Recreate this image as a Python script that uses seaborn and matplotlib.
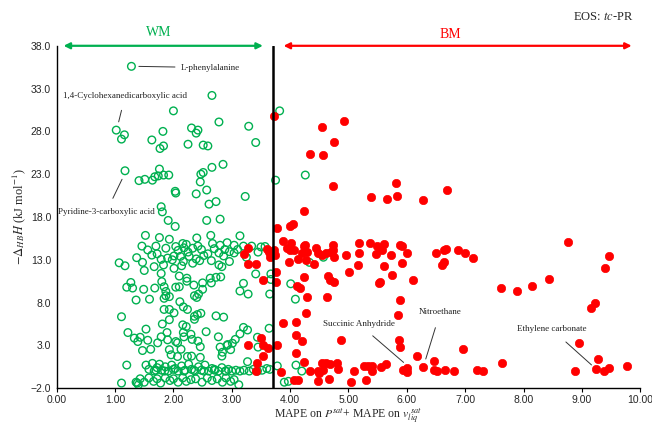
import numpy as np
import pandas as pd
import seaborn as sns
import matplotlib.pyplot as plt

# datos (MAPE vs -dHB H)
wm_x = [1.28, 2.66, 2.00, 3.82, 1.02, 1.16, 1.11, 1.82, 1.63, 1.83, 1.77, 2.31, 2.42, 2.39, 2.78, 3.29, 3.41, 2.25, 2.51, 2.59,
        1.17, 1.41, 1.51, 1.64, 1.68, 1.76, 1.74, 1.83, 1.92, 2.47, 2.51, 2.46, 2.66, 2.85, 3.75, 4.26, 2.03, 2.04, 2.39, 2.57,
        2.61, 2.73, 3.23, 1.79, 1.81, 1.91, 2.03, 2.57, 2.80, 1.52, 1.76, 1.93, 2.40, 2.64, 3.14,
        2.16, 1.46, 1.56, 1.70, 1.87, 2.04, 2.18, 2.22, 2.33, 2.42, 2.67, 2.80, 2.92, 3.04, 3.20, 3.34, 3.57, 1.37, 1.47, 1.63,
        1.72, 1.79, 1.90, 2.01, 2.12, 2.27, 2.39, 2.59, 2.78, 2.86, 2.96, 3.04, 2.96, 1.07, 1.17, 1.50, 1.67, 1.83, 1.79, 2.01,
        2.17, 2.33, 2.78, 2.83, 4.33, 4.57, 2.08, 2.25, 2.48, 2.52, 2.70, 2.88, 1.98, 2.14, 2.45, 2.65, 3.10, 3.45, 3.50, 3.25,
        1.27, 1.20, 1.30, 1.49, 1.68, 1.80, 1.84, 1.87, 1.87, 1.84, 1.93, 2.04, 2.10, 2.10, 2.23, 2.23, 2.35, 2.50, 2.50, 2.63,
        2.73, 2.81, 2.65, 3.20, 3.14, 3.28, 3.65, 3.67, 3.67, 3.41, 1.36, 1.59, 2.40, 2.36, 2.43, 4.01, 4.09,
        1.84, 1.93, 2.01, 2.11, 2.17, 2.24, 2.36, 2.36, 2.41, 2.47, 2.73, 2.86, 1.11,
        1.22, 1.33, 1.39, 1.43, 1.53, 1.56, 1.61, 1.47, 1.73, 1.79, 1.89, 1.90, 1.93, 1.81, 1.93, 1.96, 2.04, 2.07, 2.13, 2.18,
        2.16, 2.22, 2.17, 2.30, 2.32, 2.46, 2.42, 2.31, 2.07, 2.24, 2.46, 2.56, 2.77, 2.80, 2.92, 2.93, 3.01, 3.06, 3.14, 3.20,
        3.27, 2.98, 2.84, 2.83, 3.44, 3.45, 3.64, 1.20, 3.27, 3.78, 4.10, 4.20, 3.97, 1.11, 1.36, 1.40, 3.90,
        1.53, 1.58, 1.64, 1.67, 1.72, 1.76, 1.80, 1.86, 1.91, 1.97, 2.03, 2.08, 2.14, 2.20, 2.26, 2.31, 2.37, 2.43, 2.48, 2.54,
        2.60, 2.66, 2.71, 2.77, 2.83, 2.89, 2.94, 3.00, 3.07, 3.14, 3.21, 3.30, 3.37, 3.44, 3.52, 3.60, 3.65,
        1.70, 1.85, 2.00, 2.18, 2.35, 2.52, 2.70, 2.90,
        1.38, 1.43, 1.50, 1.58, 1.66, 1.72, 1.78, 1.86, 1.94, 2.00, 2.08, 2.16, 2.22, 2.30, 2.38, 2.49, 2.58, 2.66, 2.75, 2.84,
        2.90, 2.98, 3.04, 3.12]
wm_y = [35.6, 32.2, 30.4, 30.4, 28.15, 27.6, 27.1, 28.0, 27.0, 26.3, 26.0, 28.4, 28.15, 27.8, 29.1, 28.6, 26.7, 26.5, 26.4, 26.3,
        23.4, 22.25, 22.4, 22.3, 22.7, 23.6, 22.8, 22.9, 22.9, 23.0, 23.2, 22.1, 23.8, 24.15, 22.3, 22.9, 21.0, 20.8, 20.7, 21.15,
        19.5, 19.8, 20.4, 19.2, 18.6, 17.6, 16.9, 17.6, 17.75, 15.85, 15.6, 15.4, 15.55, 15.85, 15.8,
        14.9, 14.6, 14.15, 14.6, 14.35, 14.55, 14.4, 14.8, 14.35, 14.6, 14.9, 14.7, 15.0, 14.7, 14.6, 14.6, 14.55, 13.25, 12.7, 13.55,
        13.7, 13.05, 13.2, 13.45, 13.4, 13.4, 13.1, 13.7, 13.8, 13.45, 13.95, 13.8, 12.8, 12.65, 12.3, 11.75, 12.2, 12.4, 11.4, 12.0,
        12.8, 12.6, 12.4, 12.2, 12.7, 13.3, 14.1, 13.9, 14.2, 13.5, 14.3, 14.2, 13.0, 12.3, 12.9, 12.9, 14.2, 13.9, 14.5, 13.3,
        10.35, 9.8, 9.7, 9.55, 9.7, 10.45, 9.85, 9.3, 8.8, 8.5, 8.7, 9.8, 9.85, 11.1, 10.85, 10.5, 10.05, 10.3, 9.55, 10.85,
        10.95, 11.0, 10.3, 10.25, 9.35, 9.0, 9.0, 10.7, 11.35, 11.35, 8.3, 8.4, 8.6, 8.8, 9.0, 10.2, 8.4,
        7.2, 7.2, 6.8, 8.1, 7.5, 7.2, 6.05, 6.4, 6.6, 6.75, 6.45, 6.3, 6.35,
        4.5, 3.85, 3.45, 3.95, 4.9, 3.6, 2.55, 2.4, 3.3, 4.0, 4.5, 3.65, 6.0, 5.5, 2.5, 1.9, 3.45, 3.3, 2.55, 4.0,
        5.4, 5.2, 4.5, 4.3, 3.7, 2.85, 3.5, 1.75, 1.7, 1.7, 1.6, 4.6, 4.0, 2.8, 3.0, 3.1, 3.25, 3.7, 4.35, 5.1,
        4.8, 2.5, 2.2, 1.75, 3.95, 2.8, 5.0, 0.7, 1.1, 0.6, 0.7, 0.0, -1.2, -1.4, -1.3, -1.6, -1.3,
        0.7, 0.2, 0.9, 0.0, 0.4, 0.8, 0.1, 0.5, 0.0, 0.7, 0.3, 0.0, 0.6, 0.1, 0.8, 0.2, 0.0, 0.5, 0.1, 0.7,
        0.0, 0.3, 0.1, 0.0, 0.4, 0.0, 0.2, 0.0, 0.1, 0.0, 0.1, 0.0, 0.2, 0.0, 0.1, 0.3, 0.2,
        0.1, 0.0, 0.2, 0.0, 0.1, 0.0, 0.2, 0.0,
        -1.4, -0.9, -1.3, -0.8, -1.2, -0.9, -1.4, -0.8, -1.1, -0.9, -1.3, -0.8, -1.2, -1.0, -0.9, -1.3, -0.8, -1.1, -0.9, -1.3,
        -0.8, -1.2, -1.0, -1.6]

bm_x = [3.72, 4.54, 4.93, 4.34, 4.57, 4.76, 4.73, 5.82, 5.39, 5.66, 5.83, 6.27, 6.68, 4.24, 3.78, 4.00, 4.05, 3.87, 4.01, 3.94,
        4.00, 4.07, 4.23, 4.21, 4.29, 4.44, 4.47, 4.55, 4.61, 4.73, 4.74, 4.70, 4.75, 4.95, 5.18, 5.36, 5.48, 5.18, 5.47, 5.16,
        5.01, 3.72, 3.74, 3.98, 4.14, 4.41, 3.76, 3.76, 4.23, 4.65, 4.68, 4.75, 4.11, 4.17, 4.29, 4.63, 4.27, 5.52, 5.61, 5.58,
        5.88, 5.92, 6.00, 5.72, 5.61, 5.91, 5.75, 5.54, 6.11, 5.88, 5.84, 6.50, 6.64, 6.67, 6.63, 6.61, 6.88, 7.00, 7.14, 7.62,
        7.88, 8.14, 8.44, 8.77, 9.47, 9.39, 9.22, 9.16, 8.95, 9.27, 9.24, 9.37, 9.47, 9.78, 8.89, 7.63, 6.97, 7.21, 7.31, 6.80,
        6.65, 6.52, 6.46, 6.46, 6.28, 6.17, 6.00, 6.01, 5.94, 5.88, 5.86, 5.64, 5.56, 5.41, 5.41, 5.33, 5.26, 5.09, 5.30, 5.04,
        4.88, 4.80, 4.82, 4.68, 4.67, 4.55, 4.57, 3.88, 4.10, 4.10, 4.20, 3.77, 4.10, 4.23, 3.84, 4.34, 4.47, 4.50, 4.06, 4.14,
        4.47, 3.28, 3.50, 3.54, 3.62, 3.54, 3.43, 3.41, 3.28, 3.21, 3.28, 3.41, 3.60, 3.64, 3.68, 3.53, 4.25, 4.27, 4.61, 3.66]
bm_y = [29.8, 28.5, 29.2, 25.4, 25.3, 26.8, 21.6, 22.0, 20.3, 20.1, 20.5, 20.0, 21.2, 18.7, 16.7, 16.95, 17.15, 15.2, 15.0, 14.35,
        14.1, 14.1, 14.6, 13.8, 13.95, 14.35, 13.8, 13.6, 13.8, 14.7, 14.2, 13.95, 13.3, 13.55, 15.0, 15.0, 14.6, 13.8, 13.7, 12.4,
        11.6, 14.1, 13.55, 12.8, 13.05, 12.5, 11.6, 10.4, 11.0, 11.15, 10.65, 10.45, 9.9, 9.7, 8.7, 8.6, 6.75, 10.3, 14.8, 14.2,
        14.7, 14.6, 13.8, 13.55, 12.3, 12.65, 11.2, 10.45, 10.65, 8.3, 6.55, 13.8, 14.1, 14.3, 12.8, 12.4, 14.15, 13.75, 13.25, 9.7,
        9.3, 9.95, 10.7, 15.1, 13.5, 12.05, 8.0, 7.35, 3.3, 1.4, 0.2, 0.0, 0.35, 0.6, 0.0, 1.0, 2.6, 0.1, 0.0, 0.0,
        0.1, 0.0, 0.1, 1.2, 0.5, 1.75, 0.4, -0.1, 0.15, 2.85, 3.65, 0.8, 0.45, 0.6, 0.0, 0.6, 0.6, 0.05, -1.1, -1.3,
        3.65, 0.9, 0.2, 0.85, -0.95, 1.0, 0.15, 5.6, 5.7, 4.2, 3.5, 3.0, 2.1, 1.1, -0.05, 0.0, 0.0, -0.2, -1.1, -1.0,
        -1.2, 3.1, 3.85, 3.05, 2.65, 1.8, 0.9, 0.05, 14.35, 13.65, 12.5, 12.55, 14.25, 13.9, 13.55, 10.65, 14.7, 13.0, 1.0, 13.3]

x_ticks = [0, 1, 2, 3, 4, 5, 6, 7, 8, 9, 10]
y_ticks = [-2, 3, 8, 13, 18, 23, 28, 33, 38]
limite = 3.7

verde = "#00B050"
rojo = "#FF0000"

df_wm = pd.DataFrame({"x": wm_x, "y": wm_y})
df_bm = pd.DataFrame({"x": bm_x, "y": bm_y})

sns.set_style("white")
plt.rcParams["mathtext.fontset"] = "stix"

fig = plt.figure(figsize=(6.52, 4.28), dpi=100)
ax = fig.add_axes([0.087, 0.093, 0.895, 0.80])

sns.scatterplot(data=df_wm, x="x", y="y", ax=ax, marker="o", s=30,
                facecolor="none", edgecolor=verde, linewidth=1.0, zorder=3)
sns.scatterplot(data=df_bm, x="x", y="y", ax=ax, marker="o", s=36,
                color=rojo, edgecolor=rojo, linewidth=0.5, zorder=4)

ax.axvline(limite, color="black", lw=1.8, zorder=5)

ax.set_xlim(0, 10)
ax.set_ylim(-2, 38)
ax.set_xticks(x_ticks)
ax.set_yticks(y_ticks)
ax.set_xticklabels([f"{t:.2f}" for t in x_ticks], fontsize=7.5, family="Liberation Sans")
ax.set_yticklabels([f"{t:.1f}".replace("-", "\u2212") for t in y_ticks], fontsize=7.5, family="Liberation Sans")
ax.tick_params(axis="x", length=3, width=0.8, color="black", direction="out", bottom=True, pad=2)
ax.tick_params(axis="y", length=0, pad=4)

for lado in ["top", "right"]:
    ax.spines[lado].set_visible(False)
for lado in ["left", "bottom"]:
    ax.spines[lado].set_color("black")
    ax.spines[lado].set_linewidth(1.0)

ax.set_xlabel(r"MAPE on $P^{sat}$+ MAPE on $v_{liq}^{\ sat}$", fontsize=8.5, family="Liberation Serif", labelpad=1)
ax.set_ylabel(r"$-\Delta_{HB}H$ (kJ mol$^{-1}$)", fontsize=9, family="Liberation Serif", labelpad=2)

# flechas WM / BM
ax.annotate("", xy=(0.07, 38), xytext=(3.58, 38),
            arrowprops=dict(arrowstyle="<|-|>", color=verde, lw=1.6, mutation_scale=9), annotation_clip=False)
ax.annotate("", xy=(3.84, 38), xytext=(9.9, 38),
            arrowprops=dict(arrowstyle="<|-|>", color=rojo, lw=1.6, mutation_scale=9), annotation_clip=False)
ax.text(1.74, 39.5, "WM", color=verde, fontsize=10, family="Liberation Serif", ha="center", va="center")
ax.text(6.75, 39.3, "BM", color=rojo, fontsize=10, family="Liberation Serif", ha="center", va="center")
ax.text(9.37, 41.4, r"EOS: $\it{tc}$-PR", fontsize=9, family="Liberation Serif", ha="center", va="center")

# etiquetas de compuestos
estilo = dict(fontsize=6.5, family="Liberation Serif", color="#222222")
linea = dict(arrowstyle="-", color="#333333", lw=0.7)
ax.annotate("L-phenylalanine", xy=(1.36, 35.6), xytext=(2.13, 35.45), va="center", ha="left",
            arrowprops=linea, **estilo)
ax.annotate("1,4-Cyclohexanedicarboxylic acid", xy=(1.05, 28.8), xytext=(1.17, 32.1), va="center", ha="center",
            arrowprops=dict(linea, shrinkA=5), **estilo)
ax.annotate("Pyridine-3-carboxylic acid", xy=(1.14, 22.7), xytext=(0.85, 18.6), va="center", ha="center",
            arrowprops=dict(linea, shrinkA=5), **estilo)
ax.annotate("Succinic Anhydride", xy=(5.98, 0.8), xytext=(5.18, 5.5), va="center", ha="center",
            arrowprops=dict(linea, shrinkA=5), **estilo)
ax.annotate("Nitroethane", xy=(6.31, 1.1), xytext=(6.57, 6.85), va="center", ha="center",
            arrowprops=dict(linea, shrinkA=6), **estilo)
ax.annotate("Ethylene carbonate", xy=(9.2, 0.5), xytext=(8.48, 4.9), va="center", ha="center",
            arrowprops=dict(linea, shrinkA=6), **estilo)

fig.savefig("out.png", dpi=100)
